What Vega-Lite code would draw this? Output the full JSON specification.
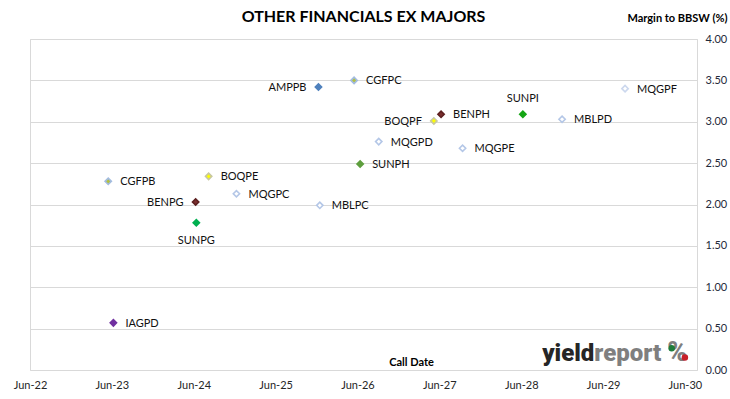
{
  "$schema": "https://vega.github.io/schema/vega-lite/v6.json",
  "width": 667,
  "height": 331,
  "autosize": {"type": "none"},
  "padding": {"left": 30, "top": 39, "right": 33, "bottom": 29},
  "background": "white",
  "config": {
    "font": "Lato",
    "view": {"stroke": "#D9D9D9", "strokeWidth": 1}
  },
  "title": {
    "text": "OTHER FINANCIALS EX MAJORS",
    "font": "Lato",
    "fontSize": 16,
    "fontWeight": "bold",
    "color": "#000000",
    "anchor": "middle",
    "offset": 14,
    "dy": 27
  },
  "datasets": {
    "bonds": [
      {"label": "AMPPB", "date": "2025-12-09", "margin": 3.42},
      {"label": "CGFPC", "date": "2026-05-17", "margin": 3.50},
      {"label": "BENPH", "date": "2027-06-09", "margin": 3.09},
      {"label": "BOQPF", "date": "2027-05-08", "margin": 3.01},
      {"label": "MQGPD", "date": "2026-09-04", "margin": 2.76},
      {"label": "MQGPE", "date": "2027-09-13", "margin": 2.68},
      {"label": "SUNPH", "date": "2026-06-13", "margin": 2.49},
      {"label": "SUNPI", "date": "2028-06-08", "margin": 3.09},
      {"label": "MBLPD", "date": "2028-11-30", "margin": 3.03},
      {"label": "MQGPF", "date": "2029-09-07", "margin": 3.40},
      {"label": "CGFPB", "date": "2023-05-16", "margin": 2.28},
      {"label": "BOQPE", "date": "2024-08-06", "margin": 2.34},
      {"label": "MQGPC", "date": "2024-12-08", "margin": 2.13},
      {"label": "BENPG", "date": "2024-06-09", "margin": 2.03},
      {"label": "MBLPC", "date": "2025-12-15", "margin": 1.99},
      {"label": "SUNPG", "date": "2024-06-12", "margin": 1.78},
      {"label": "IAGPD", "date": "2023-06-08", "margin": 0.57}
    ]
  },
  "encoding": {
    "x": {
      "field": "date",
      "type": "temporal",
      "scale": {"domain": [{"year": 2022, "month": 6, "date": 1}, {"year": 2030, "month": 7, "date": 25}]},
      "axis": {
        "values": [
          {"year": 2022, "month": 6, "date": 1},
          {"year": 2023, "month": 6, "date": 1},
          {"year": 2024, "month": 6, "date": 1},
          {"year": 2025, "month": 6, "date": 1},
          {"year": 2026, "month": 6, "date": 1},
          {"year": 2027, "month": 6, "date": 1},
          {"year": 2028, "month": 6, "date": 1},
          {"year": 2029, "month": 6, "date": 1},
          {"year": 2030, "month": 6, "date": 1}
        ],
        "format": "%b-%y",
        "grid": false,
        "ticks": false,
        "domain": false,
        "labelFont": "Lato",
        "labelFontSize": 11,
        "labelColor": "#262626",
        "labelPadding": 9,
        "labelFlush": false,
        "labelOverlap": false,
        "title": "Call Date",
        "titleFont": "Lato",
        "titleFontSize": 11,
        "titleFontWeight": "bold",
        "titleColor": "#000000",
        "titleX": 381,
        "titleY": -8,
        "titleBaseline": "middle"
      }
    },
    "y": {
      "field": "margin",
      "type": "quantitative",
      "scale": {"domain": [0, 4]},
      "axis": {
        "orient": "right",
        "values": [0, 0.5, 1, 1.5, 2, 2.5, 3, 3.5, 4],
        "format": ".2f",
        "grid": true,
        "gridColor": "#D9D9D9",
        "gridWidth": 1,
        "ticks": false,
        "domain": false,
        "labelFont": "Lato",
        "labelFontSize": 11,
        "labelColor": "#1F2A3A",
        "labelPadding": 8,
        "labelFlush": false,
        "title": "Margin to BBSW (%)",
        "titleFont": "Lato",
        "titleFontSize": 11,
        "titleFontWeight": "bold",
        "titleColor": "#000000",
        "titleAngle": 0,
        "titleAlign": "right",
        "titleBaseline": "middle",
        "titleX": 30,
        "titleY": -21
      }
    }
  },
  "layer": [
    {
      "data": {"name": "bonds"},
      "mark": {"type": "point", "shape": "diamond", "filled": true, "size": 40, "strokeWidth": 1.6, "opacity": 1},
      "encoding": {
        "fill": {
          "field": "label",
          "type": "nominal",
          "legend": null,
          "scale": {
            "domain": ["AMPPB","CGFPC","BENPH","BOQPF","MQGPD","MQGPE","SUNPH","SUNPI","MBLPD","MQGPF","CGFPB","BOQPE","MQGPC","BENPG","MBLPC","SUNPG","IAGPD"],
            "range": ["#4F81BD","#B3C040","#7A2E2E","#FFFF00","#FFFFFF","#FFFFFF","#5E9E3E","#14A514","#FFFFFF","#FFFFFF","#B3C040","#FFFF00","#FFFFFF","#7A2E2E","#FFFFFF","#00B050","#7030A0"]
          }
        },
        "stroke": {
          "field": "label",
          "type": "nominal",
          "legend": null,
          "scale": {
            "domain": ["AMPPB","CGFPC","BENPH","BOQPF","MQGPD","MQGPE","SUNPH","SUNPI","MBLPD","MQGPF","CGFPB","BOQPE","MQGPC","BENPG","MBLPC","SUNPG","IAGPD"],
            "range": ["#4F81BD","#A3BCE0","#5C1F1F","#C8C8A0","#B4C7E7","#B4C7E7","#5E9E3E","#14A514","#B4C7E7","#CCD8EE","#A3BCE0","#C8C8A0","#B4C7E7","#5C1F1F","#B4C7E7","#00B050","#7030A0"]
          }
        }
      }
    },
    {
      "data": {"name": "bonds"},
      "transform": [{"filter": {"field": "label", "oneOf": ["CGFPC","BENPH","MQGPD","MQGPE","SUNPH","MBLPD","MQGPF","CGFPB","BOQPE","MQGPC","MBLPC","IAGPD"]}}],
      "mark": {"type": "text", "align": "left", "baseline": "middle", "dx": 12, "dy": 1, "fontSize": 11, "font": "Lato", "color": "#111111"},
      "encoding": {"text": {"field": "label"}}
    },
    {
      "data": {"name": "bonds"},
      "transform": [{"filter": {"field": "label", "oneOf": ["AMPPB","BOQPF","BENPG"]}}],
      "mark": {"type": "text", "align": "right", "baseline": "middle", "dx": -12, "dy": 1, "fontSize": 11, "font": "Lato", "color": "#111111"},
      "encoding": {"text": {"field": "label"}}
    },
    {
      "data": {"name": "bonds"},
      "transform": [{"filter": {"field": "label", "oneOf": ["SUNPI"]}}],
      "mark": {"type": "text", "align": "center", "baseline": "middle", "dy": -15, "fontSize": 11, "font": "Lato", "color": "#111111"},
      "encoding": {"text": {"field": "label"}}
    },
    {
      "data": {"name": "bonds"},
      "transform": [{"filter": {"field": "label", "oneOf": ["SUNPG"]}}],
      "mark": {"type": "text", "align": "center", "baseline": "middle", "dy": 18, "fontSize": 11, "font": "Lato", "color": "#111111"},
      "encoding": {"text": {"field": "label"}}
    },
    {
      "data": {"values": [{"date": "2029-04-23", "margin": 0.11, "word": "yield"}]},
      "mark": {"type": "text", "align": "right", "baseline": "alphabetic", "font": "Roboto", "fontWeight": 900, "fontSize": 24, "color": "#262626"},
      "encoding": {"text": {"field": "word"}}
    },
    {
      "data": {"values": [{"date": "2029-04-23", "margin": 0.11, "word": "report"}]},
      "mark": {"type": "text", "align": "left", "baseline": "alphabetic", "font": "Roboto", "fontWeight": 900, "fontSize": 24, "color": "#7F7F7F"},
      "encoding": {"text": {"field": "word"}}
    },
    {
      "data": {"values": [{"date": "2030-04-28", "margin": 0.11, "word": "%"}]},
      "mark": {"type": "text", "align": "center", "baseline": "alphabetic", "font": "Roboto", "fontWeight": 900, "fontSize": 27, "color": "#7F7F7F"},
      "encoding": {"text": {"field": "word"}}
    },
    {
      "data": {"values": [{"date": "2030-04-03", "margin": 0.262, "dot": "top"}, {"date": "2030-06-01", "margin": 0.15, "dot": "bottom"}]},
      "mark": {"type": "point", "shape": "circle", "filled": true, "size": 42, "opacity": 1},
      "encoding": {
        "color": {"field": "dot", "type": "nominal", "legend": null, "scale": {"domain": ["top", "bottom"], "range": ["#1E7B3A", "#C8202A"]}}
      }
    }
  ]
}
